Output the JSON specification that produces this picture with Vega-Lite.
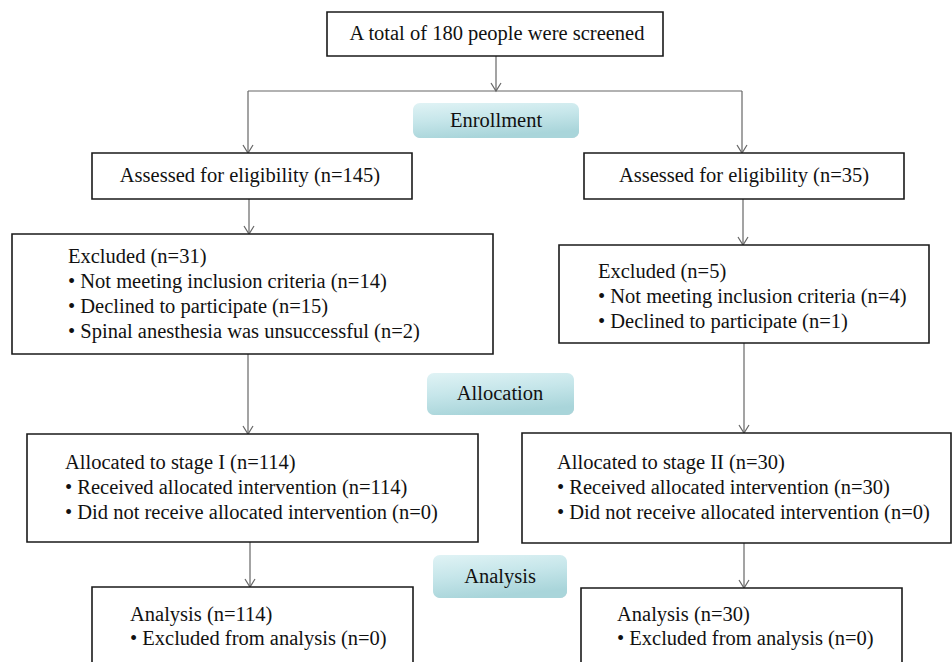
{
  "$schema": "https://vega.github.io/schema/vega-lite/v6.json",
  "width": 952,
  "height": 662,
  "autosize": {"type": "fit", "contains": "padding"},
  "padding": 0,
  "background": "white",
  "config": {"view": {"stroke": null}},
  "datasets": {
    "boxes": [
      {"id": "top", "x0": 327, "y0": 12, "x1": 663, "y1": 56},
      {"id": "assessL", "x0": 92, "y0": 153, "x1": 412, "y1": 199},
      {"id": "assessR", "x0": 584, "y0": 153, "x1": 904, "y1": 199},
      {"id": "exclL", "x0": 12, "y0": 234, "x1": 493, "y1": 354},
      {"id": "exclR", "x0": 559, "y0": 245, "x1": 929, "y1": 343},
      {"id": "allocL", "x0": 27, "y0": 434, "x1": 478, "y1": 542},
      {"id": "allocR", "x0": 522, "y0": 433, "x1": 951, "y1": 543},
      {"id": "analL", "x0": 92, "y0": 587, "x1": 413, "y1": 700},
      {"id": "analR", "x0": 581, "y0": 588, "x1": 902, "y1": 700}
    ],
    "labels": [
      {"label": "Enrollment", "x0": 413, "y0": 103, "x1": 579, "y1": 138, "cx": 496, "cy": 121},
      {"label": "Allocation", "x0": 427, "y0": 373, "x1": 574, "y1": 415, "cx": 500, "cy": 394},
      {"label": "Analysis", "x0": 433, "y0": 555, "x1": 567, "y1": 598, "cx": 500, "cy": 577}
    ],
    "links": [
      {"x0": 496, "y0": 56, "x1": 496, "y1": 91},
      {"x0": 248, "y0": 91, "x1": 742, "y1": 91},
      {"x0": 248, "y0": 91, "x1": 248, "y1": 153},
      {"x0": 742, "y0": 91, "x1": 742, "y1": 153},
      {"x0": 249, "y0": 199, "x1": 249, "y1": 234},
      {"x0": 743, "y0": 199, "x1": 743, "y1": 245},
      {"x0": 248, "y0": 354, "x1": 248, "y1": 434},
      {"x0": 744, "y0": 343, "x1": 744, "y1": 433},
      {"x0": 250, "y0": 542, "x1": 250, "y1": 587},
      {"x0": 744, "y0": 543, "x1": 744, "y1": 588}
    ],
    "heads": [
      {"x": 496, "y": 91},
      {"x": 248, "y": 153},
      {"x": 742, "y": 153},
      {"x": 249, "y": 234},
      {"x": 743, "y": 245},
      {"x": 248, "y": 434},
      {"x": 744, "y": 433},
      {"x": 250, "y": 587},
      {"x": 744, "y": 588}
    ],
    "centered": [
      {"t": "A total of 180 people were screened", "x": 497, "y": 34},
      {"t": "Assessed for eligibility (n=145)", "x": 250, "y": 176},
      {"t": "Assessed for eligibility (n=35)", "x": 744, "y": 176}
    ],
    "lefttext": [
      {"t": "Excluded (n=31)", "x": 68, "y": 257},
      {"t": "• Not meeting inclusion criteria (n=14)", "x": 68, "y": 282},
      {"t": "• Declined to participate (n=15)", "x": 68, "y": 307},
      {"t": "• Spinal anesthesia was unsuccessful (n=2)", "x": 68, "y": 332},
      {"t": "Excluded (n=5)", "x": 598, "y": 272},
      {"t": "• Not meeting inclusion criteria (n=4)", "x": 598, "y": 297},
      {"t": "• Declined to participate (n=1)", "x": 598, "y": 322},
      {"t": "Allocated to stage I (n=114)", "x": 65, "y": 463},
      {"t": "• Received allocated intervention (n=114)", "x": 65, "y": 488},
      {"t": "• Did not receive allocated intervention (n=0)", "x": 65, "y": 513},
      {"t": "Allocated to stage II (n=30)", "x": 557, "y": 463},
      {"t": "• Received allocated intervention (n=30)", "x": 557, "y": 488},
      {"t": "• Did not receive allocated intervention (n=0)", "x": 557, "y": 513},
      {"t": "Analysis (n=114)", "x": 130, "y": 615},
      {"t": "• Excluded from analysis (n=0)", "x": 130, "y": 639},
      {"t": "Analysis (n=30)", "x": 617, "y": 615},
      {"t": "• Excluded from analysis (n=0)", "x": 617, "y": 639}
    ]
  },
  "layer": [
    {
      "data": {"name": "links"},
      "mark": {"type": "rule", "color": "#666666", "strokeWidth": 1.2},
      "encoding": {
        "x": {"field": "x0", "type": "quantitative", "scale": {"domain": [0, 952], "nice": false, "zero": false}, "axis": null},
        "y": {"field": "y0", "type": "quantitative", "scale": {"domain": [0, 662], "nice": false, "zero": false, "reverse": true}, "axis": null},
        "x2": {"field": "x1"},
        "y2": {"field": "y1"}
      }
    },
    {
      "data": {"name": "heads"},
      "mark": {"type": "point", "shape": "M-1,-1.6L0,0L1,-1.6", "filled": false, "stroke": "#666666", "strokeWidth": 1.2, "size": 100, "opacity": 1},
      "encoding": {
        "x": {"field": "x", "type": "quantitative", "axis": null},
        "y": {"field": "y", "type": "quantitative", "axis": null}
      }
    },
    {
      "data": {"name": "boxes"},
      "mark": {"type": "rect", "fill": "white", "stroke": "#1a1a1a", "strokeWidth": 1.6, "clip": true},
      "encoding": {
        "x": {"field": "x0", "type": "quantitative", "axis": null},
        "y": {"field": "y0", "type": "quantitative", "axis": null},
        "x2": {"field": "x1"},
        "y2": {"field": "y1"}
      }
    },
    {
      "data": {"name": "labels"},
      "mark": {"type": "rect", "fill": "#8a9fa3", "opacity": 0.45, "cornerRadius": 7, "xOffset": 1, "yOffset": 3},
      "encoding": {
        "x": {"field": "x0", "type": "quantitative", "axis": null},
        "y": {"field": "y0", "type": "quantitative", "axis": null},
        "x2": {"field": "x1"},
        "y2": {"field": "y1"}
      }
    },
    {
      "data": {"name": "labels"},
      "mark": {
        "type": "rect",
        "cornerRadius": 7,
        "fill": {
          "gradient": "linear",
          "x1": 0, "y1": 0, "x2": 0.3, "y2": 1,
          "stops": [
            {"offset": 0, "color": "#e0f3f5"},
            {"offset": 0.5, "color": "#c6e6ea"},
            {"offset": 1, "color": "#a9d5da"}
          ]
        }
      },
      "encoding": {
        "x": {"field": "x0", "type": "quantitative", "axis": null},
        "y": {"field": "y0", "type": "quantitative", "axis": null},
        "x2": {"field": "x1"},
        "y2": {"field": "y1"}
      }
    },
    {
      "data": {"name": "labels"},
      "mark": {"type": "text", "font": "Liberation Serif", "fontSize": 20.5, "color": "#111111", "align": "center", "baseline": "middle"},
      "encoding": {
        "x": {"field": "cx", "type": "quantitative", "axis": null},
        "y": {"field": "cy", "type": "quantitative", "axis": null},
        "text": {"field": "label"}
      }
    },
    {
      "data": {"name": "centered"},
      "mark": {"type": "text", "font": "Liberation Serif", "fontSize": 20.5, "color": "#111111", "align": "center", "baseline": "middle"},
      "encoding": {
        "x": {"field": "x", "type": "quantitative", "axis": null},
        "y": {"field": "y", "type": "quantitative", "axis": null},
        "text": {"field": "t"}
      }
    },
    {
      "data": {"name": "lefttext"},
      "mark": {"type": "text", "font": "Liberation Serif", "fontSize": 20.5, "color": "#111111", "align": "left", "baseline": "middle"},
      "encoding": {
        "x": {"field": "x", "type": "quantitative", "axis": null},
        "y": {"field": "y", "type": "quantitative", "axis": null},
        "text": {"field": "t"}
      }
    }
  ]
}
